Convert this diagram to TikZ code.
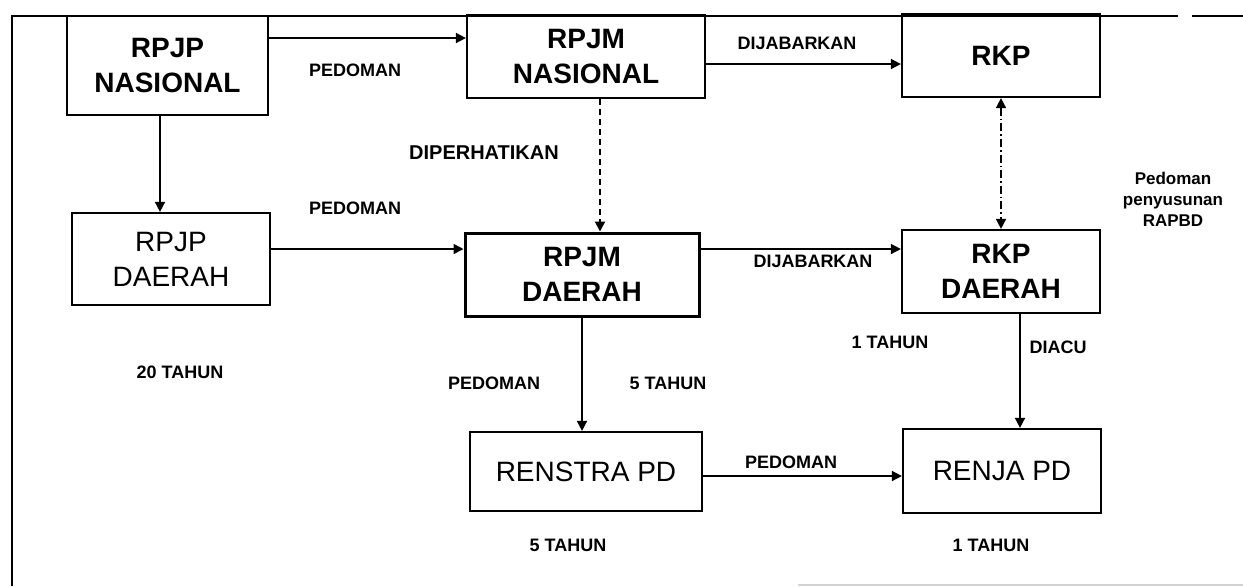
\documentclass[tikz,border=0pt]{standalone}
\usepackage{fontspec}
\setmainfont{Liberation Sans}
\usetikzlibrary{arrows.meta}
\begin{document}
\begin{tikzpicture}[x=0.5pt,y=-0.5pt,
  box/.style={draw, line width=1.1pt, inner sep=0pt, align=center,
    font=\fontsize{14}{17.5}\selectfont},
  boldbox/.style={box, font=\bfseries\fontsize{14}{17.5}\selectfont},
  lbl/.style={font=\bfseries\fontsize{9}{10}\selectfont, inner sep=0pt},
  conn/.style={line width=0.8pt, -{Triangle[length=5pt,width=5pt]}},
  bothconn/.style={line width=0.8pt, {Triangle[length=5pt,width=5pt]}-{Triangle[length=5pt,width=5pt]}},
  frame/.style={line width=1pt}
]
\useasboundingbox (0,0) rectangle (1243,586);

% outer frame
\draw[frame] (12,586) -- (12,16) -- (1178,16);
\draw[frame] (1192,16) -- (1243,16);
\draw[gray!35, line width=0.6pt] (798,585) -- (1243,585);

% boxes
\node[boldbox, minimum width=100.5pt, minimum height=49.5pt] (rpjpn) at (167.5,65.5) {RPJP\\NASIONAL};
\node[boldbox, minimum width=119pt, minimum height=41.5pt] (rpjmn) at (586,56.5) {RPJM\\NASIONAL};
\node[boldbox, minimum width=99pt, minimum height=41.5pt] (rkp) at (1001,55.5) {RKP};
\node[box, minimum width=99pt, minimum height=46pt] (rpjpd) at (171,259) {RPJP\\DAERAH};
\node[boldbox, line width=1.5pt, minimum width=117pt, minimum height=41.5pt] (rpjmd) at (582,274.5) {RPJM\\DAERAH};
\node[boldbox, minimum width=99pt, minimum height=41.5pt] (rkpd) at (1001,271.5) {RKP\\DAERAH};
\node[box, minimum width=116pt, minimum height=39.5pt] (renstra) at (586,471.5) {RENSTRA PD};
\node[box, minimum width=99pt, minimum height=42pt] (renja) at (1002,471) {RENJA PD};

% connectors
\coordinate (a1) at ([yshift=13.75pt]rpjpn.east);
\draw[conn] (a1) -- (a1 -| rpjmn.west);
\coordinate (a2) at ([xshift=-3.75pt]rpjpn.south);
\draw[conn] (a2) -- (a2 |- rpjpd.north);
\coordinate (a3) at ([yshift=-3.75pt]rpjmn.east);
\draw[conn] (a3) -- (a3 -| rkp.west);
\coordinate (a4) at ([xshift=7pt]rpjmn.south);
\draw[conn, line width=1pt, dash pattern=on 3pt off 2pt] (a4) -- (a4 |- rpjmd.north);
\draw[bothconn, dash pattern=on 4pt off 1.5pt on 0.8pt off 1.5pt] (rkp.south) -- (rkpd.north);
\coordinate (a6) at ([yshift=5pt]rpjpd.east);
\draw[conn] (a6) -- (a6 -| rpjmd.west);
\coordinate (a7) at ([yshift=12.75pt]rpjmd.east);
\draw[conn] (a7) -- (a7 -| rkpd.west);
\draw[conn] (rpjmd.south) -- (rpjmd.south |- renstra.north);
\coordinate (a9) at ([xshift=9.5pt]rkpd.south);
\draw[conn] (a9) -- (a9 |- renja.north);
\coordinate (a10) at ([yshift=-2.25pt]renstra.east);
\draw[conn] (a10) -- (a10 -| renja.west);

% labels
\node[lbl] (l1) at (355,70) {PEDOMAN};
\node[lbl] (l2) at (797,43) {DIJABARKAN};
\node[lbl, font=\bfseries\fontsize{10}{11}\selectfont] (l3) at (484,153) {DIPERHATIKAN};
\node[lbl] (l4) at (355,208) {PEDOMAN};
\node[lbl] (l5) at (813,261) {DIJABARKAN};
\node[lbl] (l6) at (494,383) {PEDOMAN};
\node[lbl] (l7) at (668,383) {5 TAHUN};
\node[lbl] (l8) at (890,342) {1 TAHUN};
\node[lbl] (l9) at (1058,347) {DIACU};
\node[lbl] (l10) at (180,372) {20 TAHUN};
\node[lbl] (l11) at (791,462) {PEDOMAN};
\node[lbl] (l12) at (568,545) {5 TAHUN};
\node[lbl] (l13) at (991,545) {1 TAHUN};
\node[lbl, align=center, font=\bfseries\fontsize{8.5}{10.5}\selectfont] (l14) at (1173,199) {Pedoman\\penyusunan\\RAPBD};
\end{tikzpicture}
\end{document}
